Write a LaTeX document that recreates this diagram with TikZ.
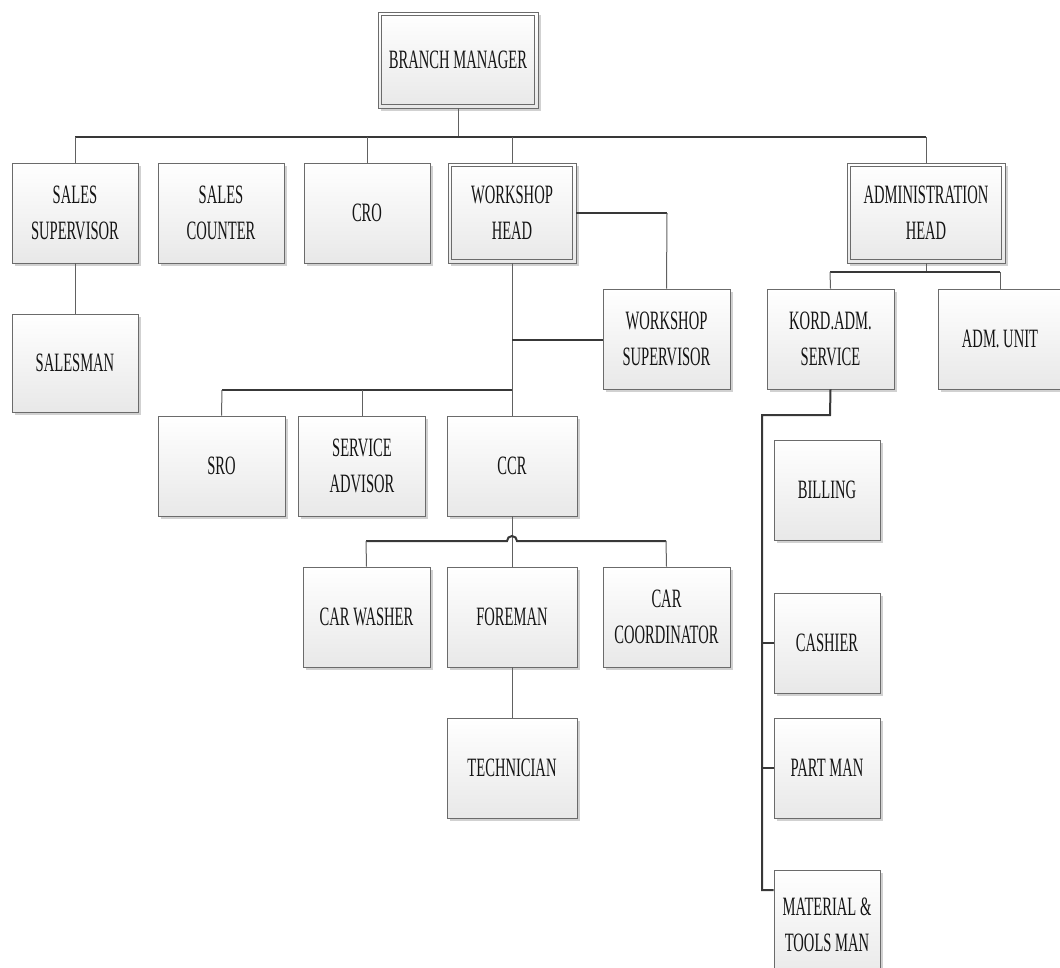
\documentclass[tikz,border=0pt]{standalone}
\usepackage{fontspec}
\setmainfont{Liberation Serif}[FakeStretch=0.55]
\usetikzlibrary{shadows}

\begin{document}
\begin{tikzpicture}[x=1pt,y=-1pt,
  box/.style={draw=black!58, line width=0.9pt, top color=white, bottom color=black!9,
    drop shadow={shadow xshift=2.5pt, shadow yshift=-2.5pt, fill=black, opacity=0.18},
    minimum width=127pt, minimum height=100pt, inner sep=2pt, align=center,
    font=\fontsize{26.5}{36}\selectfont, text=black!92},
  frame/.style={draw=black!58, line width=0.9pt},
  bus/.style={draw=black!78, line width=2pt},
  link/.style={draw=black!62, line width=1pt}]

\fill[white] (0,0) rectangle (1060,967);
\useasboundingbox (0,0) rectangle (1060,967);

% top of the chart
\node[box, minimum width=160pt, minimum height=96pt] (bm) at (458,60) {BRANCH MANAGER};

% second level
\node[box, minimum width=126pt] (ss)  at (75,213)  {SALES\\SUPERVISOR};
\node[box, minimum width=126pt] (sc)  at (221,213) {SALES\\COUNTER};
\node[box, minimum width=126pt] (cro) at (367,213) {CRO};
\node[box, minimum width=128pt] (wh)  at (512,213) {WORKSHOP\\HEAD};
\node[box, minimum width=158pt] (ah)  at (926,213) {ADMINISTRATION\\HEAD};

% sales branch
\node[box, minimum width=126pt, minimum height=98pt] (sm) at (75,363) {SALESMAN};

% workshop branch
\node[box] (wsup) at (666.5,339) {WORKSHOP\\SUPERVISOR};
\node[box] (sro)  at (221.5,466) {SRO};
\node[box] (sa)   at (362,466)   {SERVICE\\ADVISOR};
\node[box, minimum width=130pt] (ccr) at (512,466) {CCR};
\node[box] (cw)   at (366.5,617) {CAR WASHER};
\node[box, minimum width=130pt] (fm) at (512,617) {FOREMAN};
\node[box] (cc)   at (666.5,617) {CAR\\COORDINATOR};
\node[box, minimum width=130pt] (tech) at (512,768) {TECHNICIAN};

% administration branch
\node[box] (kord) at (830.5,339) {KORD.ADM.\\SERVICE};
\node[box, minimum width=124pt] (admu) at (1000,339) {ADM. UNIT};
\node[box, minimum width=106pt] (bill) at (827,490) {BILLING};
\node[box, minimum width=106pt] (cash) at (827,643) {CASHIER};
\node[box, minimum width=106pt] (part) at (827,768) {PART MAN};
% this box runs past the lower edge, so its text sits above the centre
\node[box, minimum width=106pt, minimum height=112pt] (mat) at (827,926)
  {\raisebox{12pt}{\begin{tabular}{@{}c@{}}MATERIAL \&\\TOOLS MAN\end{tabular}}};

% inner frames of the head boxes
\foreach \n in {bm,wh,ah}
  \draw[frame] ([xshift=4pt,yshift=-4pt]\n.north west) rectangle ([xshift=-4pt,yshift=4pt]\n.south east);

% junction points
\coordinate (b1) at (458,137);
\coordinate (b1l) at (75,137);
\coordinate (b1r) at (926,137);
\coordinate (w1) at (667,213);
\coordinate (t1) at (512,340);
\coordinate (t2) at (512,390);
\coordinate (b3l) at (222,390);
\coordinate (b3m) at (362,390);
\coordinate (c1) at (512,541);
\coordinate (b4l) at (366,541);
\coordinate (b4r) at (666,541);
\coordinate (a1) at (926,272);
\coordinate (a1l) at (830,272);
\coordinate (a1r) at (1000,272);
\coordinate (k1) at (830,415);
\coordinate (k2) at (762,415);
\coordinate (k3) at (762,890);
\coordinate (k4) at (762,643);
\coordinate (k5) at (762,768);

% branch manager to the second level
\draw[link] (bm.south) -- (b1);
\draw[bus] (b1l) -- (b1r);
\draw[link] (b1l) -- (ss.north);
\draw[link] (cro.north |- b1) -- (cro.north);
\draw[link] (wh.north |- b1) -- (wh.north);
\draw[link] (b1r) -- (ah.north);

% sales
\draw[link] (ss.south) -- (sm.north);

% workshop
\draw[bus] (wh.east) -- (w1);
\draw[link] (w1) -- (wsup.north);
\draw[link] (wh.south) -- (t2);
\draw[bus] (t1) -- (t1 -| wsup.west);
\draw[bus] (b3l) -- (t2);
\draw[link] (b3l) -- (sro.north);
\draw[link] (b3m) -- (sa.north);
\draw[link] (t2) -- (ccr.north);
\draw[link] (ccr.south) -- (fm.north);
\draw[bus] (b4l) -- (507,541) arc[start angle=180, end angle=360, radius=5] -- (b4r);
\draw[link] (b4l) -- (cw.north);
\draw[link] (b4r) -- (cc.north);
\draw[link] (fm.south) -- (tech.north);

% administration
\draw[link] (ah.south) -- (a1);
\draw[bus] (a1l) -- (a1r);
\draw[link] (a1l) -- (kord.north);
\draw[link] (a1r) -- (admu.north);
\draw[bus] (kord.south) -- (k1) -- (k2) -- (k3) -- (k3 -| mat.west);
\draw[bus] (k4) -- (cash.west);
\draw[bus] (k5) -- (part.west);

\end{tikzpicture}
\end{document}
